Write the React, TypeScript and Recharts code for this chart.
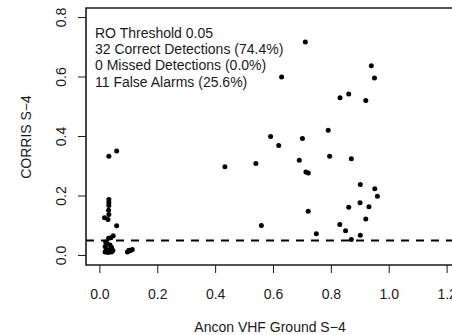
import React from "react";
import {
  ScatterChart,
  Scatter,
  XAxis,
  YAxis,
  ReferenceLine,
  ReferenceArea,
  Customized,
} from "recharts";

// Ancon VHF Ground S-4 (x) and CORRIS S-4 (y)
const groundS4 = [
  0.031, 0.058, 0.031, 0.031, 0.031, 0.030, 0.031, 0.016, 0.028, 0.058,
  0.046, 0.038, 0.030, 0.020, 0.025, 0.035, 0.018, 0.040, 0.022, 0.030,
  0.045, 0.018, 0.028, 0.040, 0.095, 0.105, 0.112, 0.100,
  0.710, 0.628, 0.590, 0.618, 0.700, 0.789, 0.938, 0.949, 0.830, 0.860,
  0.919, 0.432, 0.539, 0.689, 0.712, 0.720, 0.720, 0.558, 0.748, 0.794,
  0.869, 0.900, 0.950, 0.959, 0.899, 0.930, 0.860, 0.919, 0.829, 0.849,
  0.900, 0.869,
];
const corrisS4 = [
  0.334, 0.351, 0.188, 0.178, 0.168, 0.152, 0.138, 0.127, 0.121, 0.100,
  0.066, 0.060, 0.058, 0.045, 0.040, 0.035, 0.030, 0.028, 0.022, 0.018,
  0.017, 0.012, 0.010, 0.012, 0.012, 0.016, 0.020, 0.018,
  0.718, 0.600, 0.400, 0.370, 0.393, 0.421, 0.638, 0.597, 0.530, 0.543,
  0.521, 0.298, 0.309, 0.320, 0.281, 0.277, 0.149, 0.101, 0.073, 0.334,
  0.325, 0.239, 0.224, 0.199, 0.177, 0.164, 0.162, 0.123, 0.104, 0.083,
  0.068, 0.054,
];

const xTicks = [0, 0.2, 0.4, 0.6, 0.8, 1.0, 1.2];
const yTicks = [0, 0.2, 0.4, 0.6, 0.8];
const threshold = 0.05;
const annotation = [
  "RO Threshold 0.05",
  "32 Correct Detections (74.4%)",
  "0 Missed Detections (0.0%)",
  "11 False Alarms (25.6%)",
];
const xTitle = "Ancon VHF Ground S\u22124";
const yTitle = "CORRIS S\u22124";

const data = groundS4.map((g, i) => ({ x: g, y: corrisS4[i] }));

const FONT = "'Liberation Sans', Arial, Helvetica, sans-serif";
const INK = "#1a1a1a";

const XTick = (props: any) => {
  const { x, y, payload } = props;
  return (
    <text x={x} y={y + 24} textAnchor="middle" fontFamily={FONT} fontSize={14} fill={INK}>
      {Number(payload.value).toFixed(1)}
    </text>
  );
};

const YTick = (props: any) => {
  const { y, payload } = props;
  const bx = 66;
  return (
    <text
      x={bx}
      y={y}
      textAnchor="middle"
      transform={`rotate(-90 ${bx} ${y})`}
      fontFamily={FONT}
      fontSize={14}
      fill={INK}
    >
      {Number(payload.value).toFixed(1)}
    </text>
  );
};

const Dot = (props: any) => <circle cx={props.cx} cy={props.cy} r={2.5} fill="#000" />;

const Texts = () => (
  <g fontFamily={FONT} fontSize={14} fill={INK}>
    {annotation.map((t, i) => (
      <text key={i} x={95} y={38 + i * 16.2}>
        {t}
      </text>
    ))}
    <text x={270} y={332} textAnchor="middle">
      {xTitle}
    </text>
    <text x={31} y={137} textAnchor="middle" transform="rotate(-90 31 137)">
      {yTitle}
    </text>
  </g>
);

export default function App() {
  return (
    <div
      style={{
        position: "absolute",
        left: 0,
        top: 0,
        width: 452,
        height: 335,
        overflow: "hidden",
        background: "#fff",
      }}
    >
      <ScatterChart
        width={470}
        height={335}
        margin={{ top: 8, right: 9, bottom: 0, left: 0 }}
      >
        <XAxis
          type="number"
          dataKey="x"
          domain={[-0.048, 1.248]}
          ticks={xTicks}
          allowDataOverflow
          axisLine={false}
          tickLine={{ stroke: INK, strokeWidth: 1 }}
          tickSize={8}
          tick={<XTick />}
          height={70}
          interval={0}
        />
        <YAxis
          type="number"
          dataKey="y"
          domain={[-0.032, 0.832]}
          ticks={yTicks}
          allowDataOverflow
          axisLine={false}
          tickLine={{ stroke: INK, strokeWidth: 1 }}
          tickSize={8}
          tick={<YTick />}
          width={86}
          interval={0}
        />
        <ReferenceLine
          y={threshold}
          stroke="#000"
          strokeWidth={2}
          strokeDasharray="8 7"
        />
        <ReferenceArea
          x1={-0.048}
          x2={1.248}
          y1={-0.032}
          y2={0.832}
          fill="none"
          fillOpacity={0}
          stroke={INK}
          strokeWidth={1.6}
          ifOverflow="visible"
        />
        <Scatter data={data} shape={<Dot />} isAnimationActive={false} />
        <Customized component={Texts} />
      </ScatterChart>
    </div>
  );
}
